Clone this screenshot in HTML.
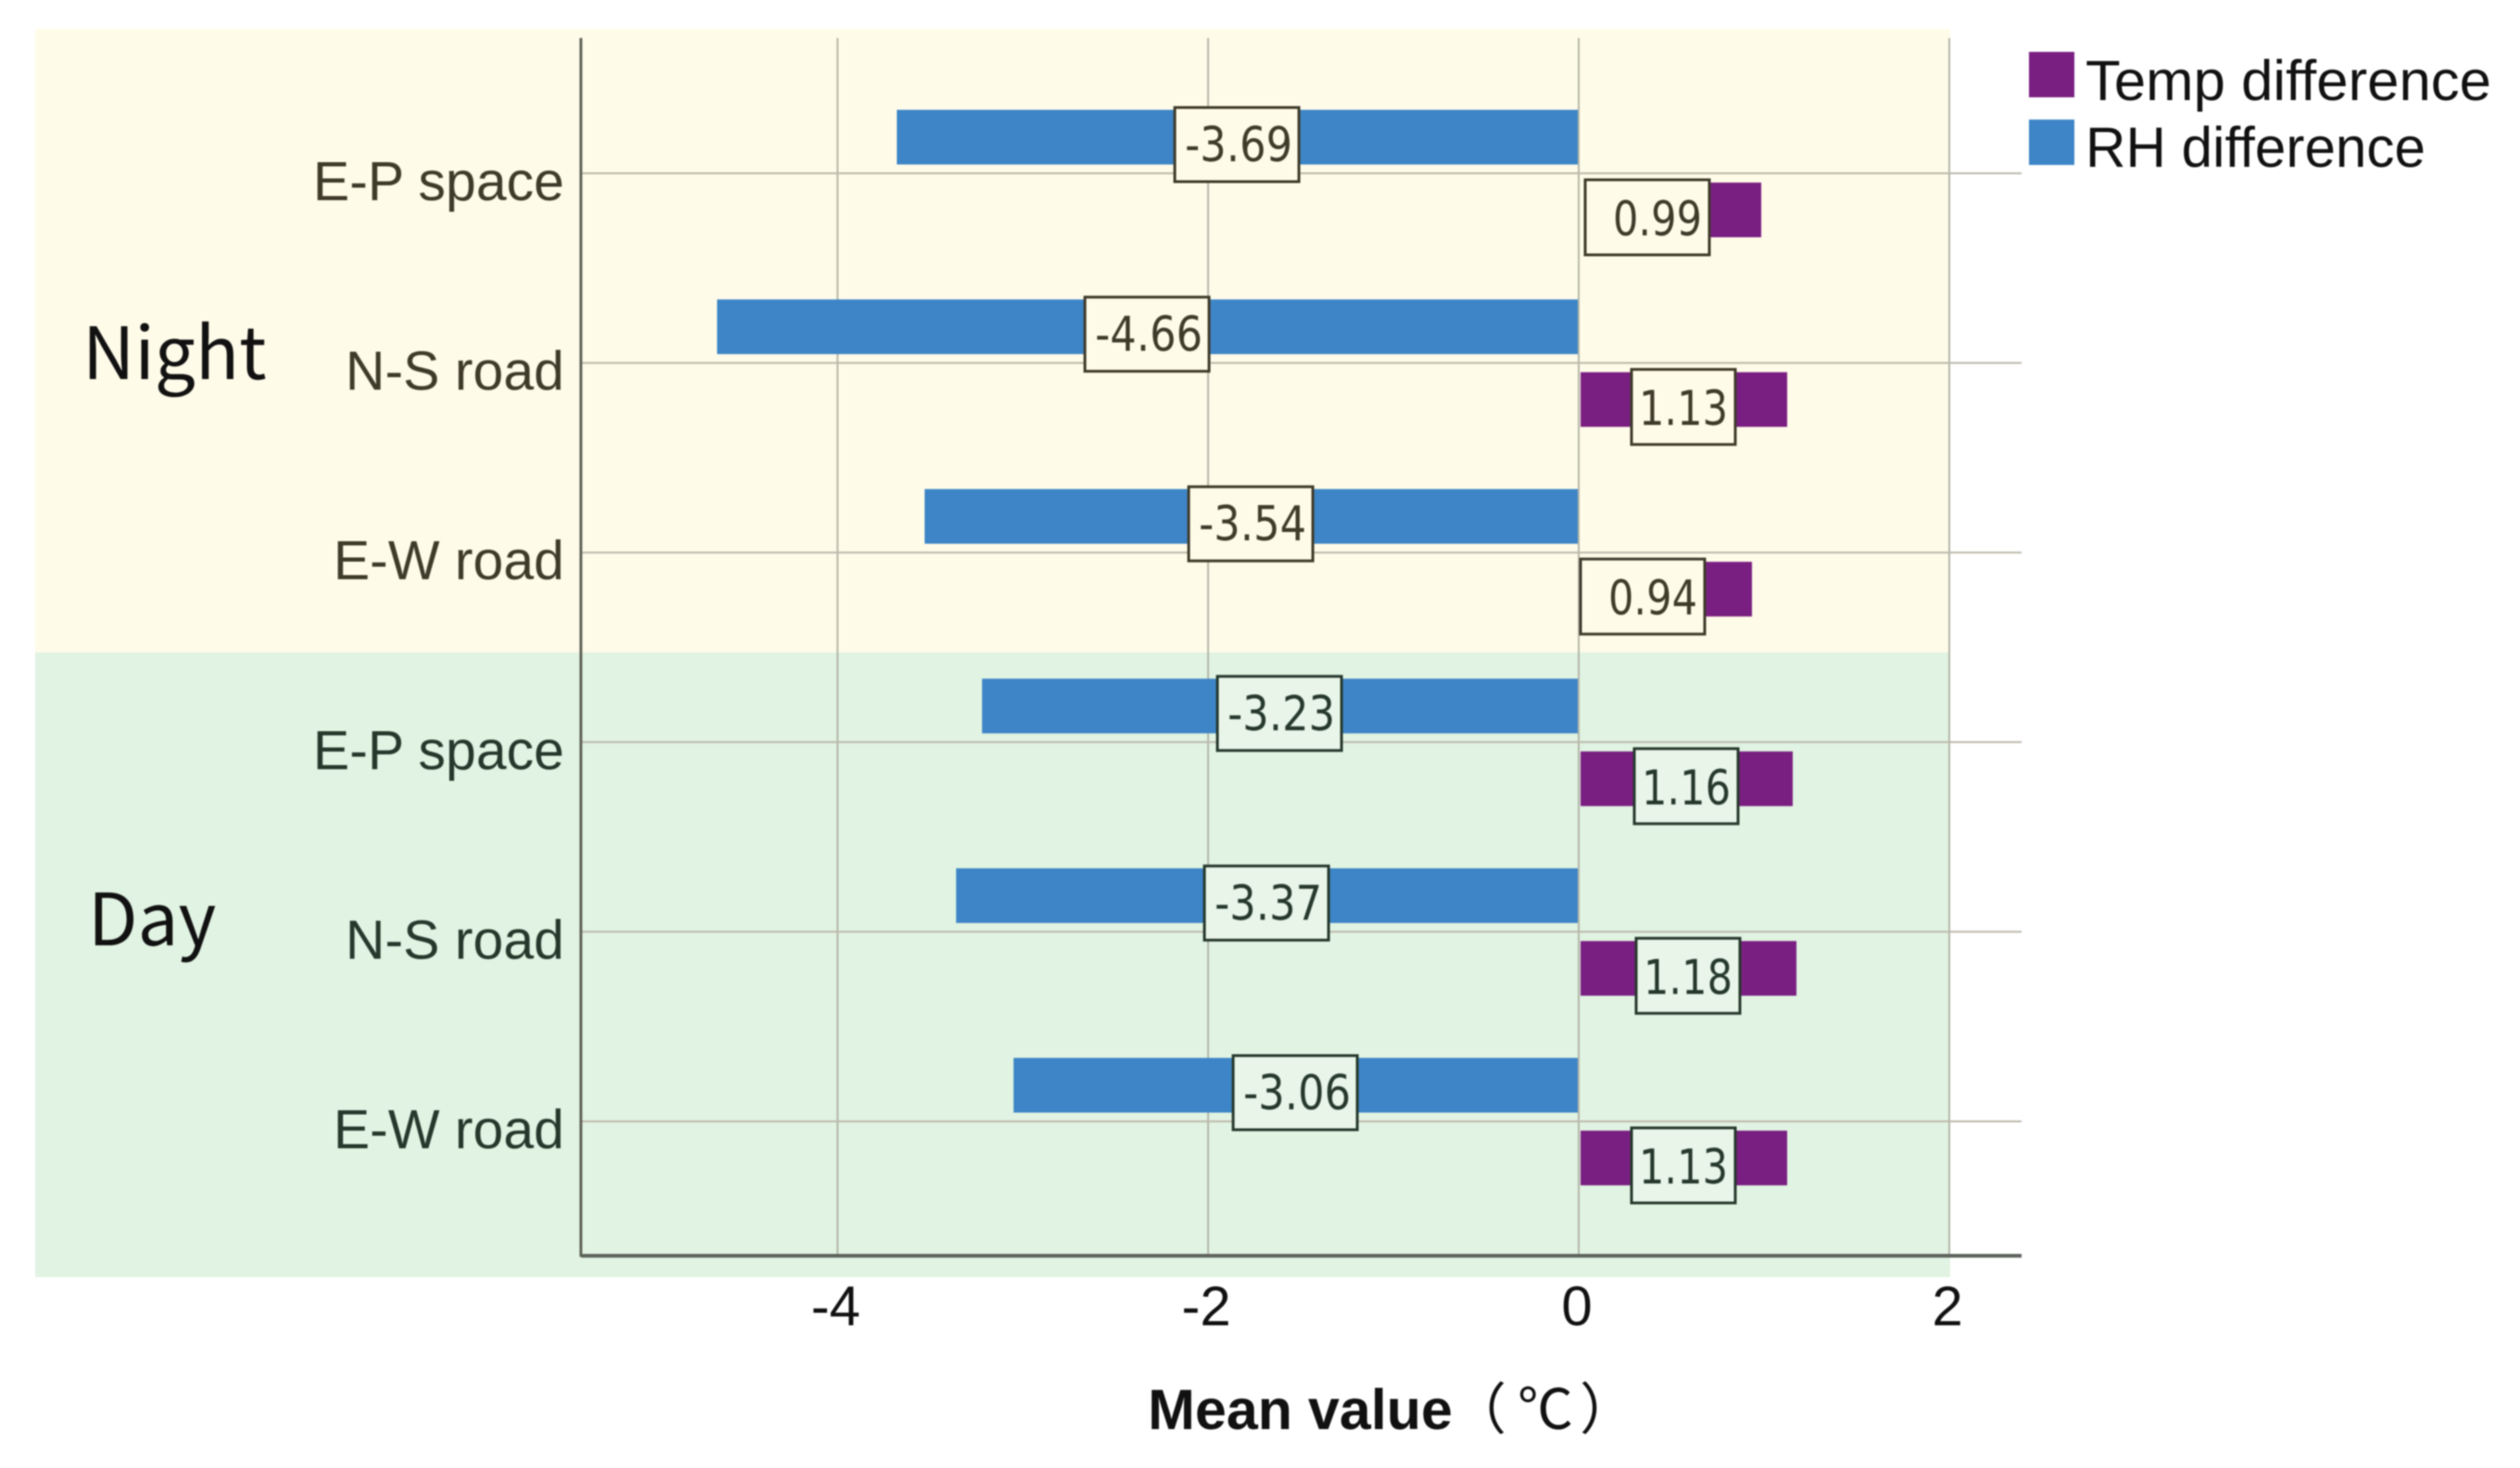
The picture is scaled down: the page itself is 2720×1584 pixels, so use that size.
<!DOCTYPE html>
<html lang="en">
<head>
<meta charset="utf-8">
<title>Mean temperature and RH difference</title>
<style>
html,body{margin:0;padding:0;background:#fff;width:2720px;height:1584px;overflow:hidden}
svg{display:block;font-family:"Liberation Sans","Noto Sans CJK SC",sans-serif;filter:blur(0.7px)}
</style>
</head>
<body>
<svg id="chart" width="2720" height="1584" viewBox="0 0 2720 1584" xmlns="http://www.w3.org/2000/svg">
  <rect x="0" y="0" width="2720" height="1584" fill="#ffffff"/>
  <rect x="38" y="31" width="2067" height="673" fill="#fffbe9"/>
  <rect x="38" y="704" width="2067" height="674" fill="#e1f3e2"/>
  <g id="grid"></g>
  <g id="bars"></g>
  <line x1="627" y1="41" x2="627" y2="1356" stroke="#5f6156" stroke-width="3"/>
  <line x1="627" y1="1355" x2="2182" y2="1355" stroke="#5d635c" stroke-width="4"/>
  <g id="labels"></g>
  <g id="ticks"></g>
  <text x="89" y="409" font-size="78" fill="#111" style="font-family:'Noto Sans CJK SC',sans-serif">Night</text>
  <text x="95" y="1020" font-size="78" fill="#111" style="font-family:'Noto Sans CJK SC',sans-serif">Day</text>
  <g>
    <rect x="2190" y="56" width="49" height="49" fill="#7a1f82"/>
    <text x="2251" y="108" font-size="61" fill="#111" textLength="438" lengthAdjust="spacingAndGlyphs">Temp difference</text>
    <rect x="2190" y="129" width="49" height="49" fill="#3d85c6"/>
    <text x="2251" y="180" font-size="61" fill="#111" textLength="367" lengthAdjust="spacingAndGlyphs">RH difference</text>
  </g>
  <text x="1239" y="1542" font-size="61" font-weight="700" fill="#111">Mean value</text>
  <text y="1542" font-size="60" fill="#111" style="font-family:'Noto Sans CJK SC',sans-serif"><tspan x="1566">（</tspan><tspan x="1638">℃</tspan><tspan x="1705">）</tspan></text>
</svg>
<script>
const categories = ['E-P space', 'N-S road', 'E-W road', 'E-P space', 'N-S road', 'E-W road'];
const periods = ['Night', 'Night', 'Night', 'Day', 'Day', 'Day'];
const rhDifference = [-3.69, -4.66, -3.54, -3.23, -3.37, -3.06];
const tempDifference = [0.99, 1.13, 0.94, 1.16, 1.18, 1.13];
const xTickValues = [-4, -2, 0, 2];

const NS = 'http://www.w3.org/2000/svg';
function x(v) { return 1704 + v * 200; }
function y(i) { return 187 + i * 204.6; }
function make(parent, tag, attrs, text) {
  const el = document.createElementNS(NS, tag);
  for (const k in attrs) el.setAttribute(k, attrs[k]);
  if (text !== undefined) el.textContent = text;
  parent.appendChild(el);
  return el;
}
const grid = document.getElementById('grid');
const bars = document.getElementById('bars');
const labels = document.getElementById('labels');
const ticks = document.getElementById('ticks');

xTickValues.forEach(function (t) {
  const line = make(grid, 'line', { x1: x(t), x2: x(t), y1: 41, y2: 1355, stroke: '#b4b6a8', 'stroke-width': 2 });
  
  
  const label = make(ticks, 'text', { x: x(t) - 2, y: 1430, 'font-size': 60, 'text-anchor': 'middle', fill: '#111' }, String(t));
  
  
});

categories.forEach(function (c, i) {
  const cy = y(i);
  const isNight = periods[i] === 'Night';
  const bg = isNight ? '#fffbe9' : '#e8f5e8';
  const ink = isNight ? '#3e3b2b' : '#26382c';

  const line = make(grid, 'line', { x1: 627, x2: 2182, y1: cy, y2: cy, stroke: '#bcb9ac', 'stroke-width': 2 });
  
  

  const catLabel = make(ticks, 'text', { x: 609, y: cy + 29, 'font-size': 59, 'text-anchor': 'end', fill: ink }, c);
  
  

  const rh = rhDifference[i];
  const rhBar = make(bars, 'rect', { x: x(rh) + 2, y: cy - 68.5, width: x(0) - x(rh) - 3, height: 59, fill: '#3d85c6' });
  
  

  const temp = tempDifference[i];
  const narrow = temp >= 1;
  const tCx = (x(temp) + x(0)) / 2 + (narrow ? 0 : -25);
  const tW = narrow ? 112 : 134;
  const tStart = narrow ? x(0) + 2 : tCx + tW / 2;
  const tBar = make(bars, 'rect', { x: tStart, y: cy + 10, width: x(temp) - tStart - 1, height: 59, fill: '#7a1f82' });
  
  

  const rhCx = (x(rh) + x(0)) / 2;
  const rhBox = make(labels, 'rect', { x: rhCx - 67, y: cy - 71, width: 134, height: 80, fill: bg, stroke: ink, 'stroke-width': 3 });
  
  
  const rhText = make(labels, 'text', { x: rhCx + 2, y: cy - 13, 'font-size': 52, 'text-anchor': 'middle', fill: ink, textLength: 116, lengthAdjust: 'spacingAndGlyphs', style: 'font-family:"DejaVu Sans",sans-serif' }, rh.toFixed(2));
  
  

  const tBox = make(labels, 'rect', { x: tCx - tW / 2, y: cy + 7, width: tW, height: 81, fill: bg, stroke: ink, 'stroke-width': 3 });
  
  
  const tText = make(labels, 'text', { x: tCx + (narrow ? 0 : 11), y: cy + 67, 'font-size': 52, 'text-anchor': 'middle', fill: ink, textLength: 96, lengthAdjust: 'spacingAndGlyphs', style: 'font-family:"DejaVu Sans",sans-serif' }, temp.toFixed(2));
  
  
});
</script>
</body>
</html>
